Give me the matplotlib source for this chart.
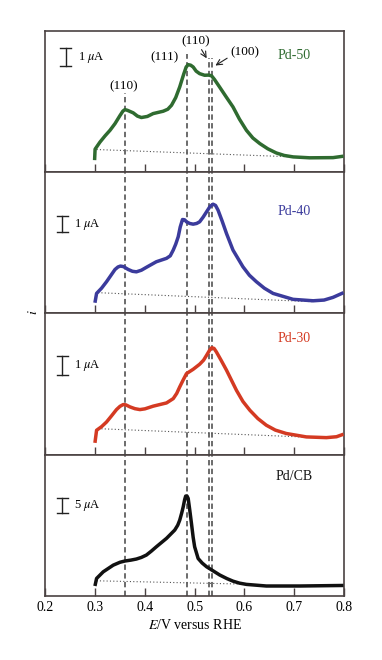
import matplotlib
matplotlib.use('Agg')
import matplotlib.pyplot as plt

plt.rcParams['font.family'] = ['Liberation Serif', 'DejaVu Serif']
plt.rcParams['mathtext.fontset'] = 'stix'

# potentials (V vs RHE) and currents (arbitrary units, 1 unit ~ scale bar)
e_pd50 = [0.2990, 0.3000, 0.3097, 0.320, 0.330, 0.340, 0.350, 0.356, 0.360, 0.365, 0.3766,
          0.385, 0.393, 0.405, 0.4167, 0.4368, 0.446, 0.4535, 0.462, 0.470, 0.478, 0.483,
          0.487, 0.492, 0.497, 0.503, 0.510, 0.520, 0.528, 0.534, 0.540, 0.550, 0.563,
          0.577, 0.590, 0.604, 0.617, 0.631, 0.647, 0.664, 0.680, 0.698, 0.731, 0.778, 0.799]
i_pd50 = [0.67, 1.28, 1.67, 2.02, 2.33, 2.70, 3.15, 3.40, 3.48, 3.44, 3.30,
          3.12, 3.04, 3.10, 3.26, 3.39, 3.50, 3.72, 4.15, 4.74, 5.45, 5.85,
          5.98, 5.95, 5.85, 5.62, 5.48, 5.39, 5.40, 5.36, 5.15, 4.74, 4.20,
          3.63, 2.95, 2.33, 1.90, 1.59, 1.30, 1.07, 0.93, 0.85, 0.80, 0.81, 0.89]

e_pd40 = [0.2997, 0.303, 0.313, 0.323, 0.332, 0.340, 0.346, 0.351, 0.357, 0.3666, 0.375, 0.383,
          0.393, 0.403, 0.423, 0.4435, 0.451, 0.457, 0.462, 0.467, 0.471, 0.4756, 0.4800,
          0.4836, 0.490, 0.497, 0.504, 0.510, 0.517, 0.524, 0.531, 0.537, 0.542, 0.547,
          0.555, 0.564, 0.577, 0.597, 0.610, 0.624, 0.640, 0.6575, 0.6977, 0.738, 0.760,
          0.778, 0.799]
i_pd40 = [0.59, 1.11, 1.40, 1.76, 2.12, 2.44, 2.58, 2.63, 2.60, 2.44, 2.34, 2.31,
          2.40, 2.56, 2.87, 3.06, 3.20, 3.52, 3.85, 4.26, 4.80, 5.22, 5.20,
          5.09, 5.00, 4.96, 5.00, 5.09, 5.35, 5.65, 5.95, 6.07, 6.00, 5.74,
          5.15, 4.44, 3.52, 2.59, 2.12, 1.76, 1.40, 1.11, 0.78, 0.70, 0.74,
          0.89, 1.15]

e_pd30 = [0.2997, 0.303, 0.313, 0.323, 0.333, 0.343, 0.350, 0.3565, 0.362, 0.370, 0.380,
          0.390, 0.400, 0.4167, 0.4435, 0.457, 0.464, 0.470, 0.477, 0.4836, 0.497, 0.510,
          0.518, 0.524, 0.530, 0.5344, 0.5390, 0.5438, 0.553, 0.564, 0.584, 0.597, 0.611,
          0.627, 0.644, 0.662, 0.684, 0.7244, 0.7646, 0.785, 0.799]
i_pd30 = [0.65, 1.35, 1.55, 1.81, 2.15, 2.50, 2.68, 2.78, 2.76, 2.65, 2.55,
          2.50, 2.54, 2.69, 2.87, 3.11, 3.40, 3.76, 4.15, 4.50, 4.74, 5.02,
          5.25, 5.52, 5.80, 5.94, 5.90, 5.70, 5.25, 4.69, 3.57, 2.95, 2.46,
          2.00, 1.63, 1.36, 1.17, 0.98, 0.94, 0.99, 1.13]

e_pdcb = [0.2997, 0.303, 0.3164, 0.3365, 0.350, 0.360, 0.372, 0.383, 0.393, 0.403, 0.413,
          0.423, 0.4435, 0.460, 0.466, 0.470, 0.474, 0.477, 0.480, 0.482, 0.4845, 0.487,
          0.490, 0.4936, 0.497, 0.500, 0.507, 0.515, 0.524, 0.5505, 0.565, 0.577, 0.590,
          0.604, 0.644, 0.711, 0.799]
i_pdcb = [0.54, 0.96, 1.33, 1.70, 1.86, 1.93, 1.98, 2.04, 2.13, 2.26, 2.48,
          2.72, 3.19, 3.65, 3.92, 4.20, 4.60, 4.94, 5.35, 5.54, 5.55, 5.41,
          4.80, 4.02, 3.25, 2.72, 2.07, 1.82, 1.61, 1.15, 0.95, 0.81, 0.70,
          0.63, 0.54, 0.54, 0.57]

# linear baselines (start/end potential and current)
base_e = [[0.303, 0.70], [0.306, 0.738], [0.306, 0.751], [0.303, 0.591]]
base_i = [[1.26, 0.85], [1.15, 0.65], [1.44, 0.94], [0.83, 0.65]]

names = ['Pd-50', 'Pd-40', 'Pd-30', 'Pd/CB']
colors = ['#2f6b30', '#3b3b9c', '#d43a22', '#111111']
scale_text = ['1 $\\mu$A', '1 $\\mu$A', '1 $\\mu$A', '5 $\\mu$A']
scale_len = [1.0, 0.93, 1.02, 0.83]
scale_top = [6.9, 5.43, 5.46, 5.43]
name_y = [6.5, 5.65, 6.44, 6.65]

facets = [0.361, 0.4845, 0.5297, 0.5357]
xticks = [0.2, 0.3, 0.4, 0.5, 0.6, 0.7, 0.8]

series_e = [e_pd50, e_pd40, e_pd30, e_pdcb]
series_i = [i_pd50, i_pd40, i_pd30, i_pdcb]

frame = '#4a4242'
fig = plt.figure(figsize=(3.82, 6.6), dpi=100)
axes = fig.subplots(4, 1, sharex=True)
fig.subplots_adjust(left=0.1186, right=0.9005, top=0.953, bottom=0.0974, hspace=0)

ymax = 7.85
for k, ax in enumerate(axes):
    ax.plot(series_e[k], series_i[k], color=colors[k], lw=2.5, solid_joinstyle='round',
            solid_capstyle='butt', zorder=3)
    ax.plot(base_e[k], base_i[k], color='#555555', lw=0.8, ls=(0, (1, 2)), zorder=2)

    # facet lines
    for j, f in enumerate(facets):
        top = 1.0
        if k == 0:
            top = [0.558, 0.84, 0.806, 0.806][j]
        ax.axvline(f, ymin=0, ymax=top, color='#444444', lw=1.1, ls=(0, (3.5, 2.2)), zorder=1)

    # scale bar
    xb = 0.234 if k else 0.241
    yt = scale_top[k]
    yb = yt - scale_len[k]
    ax.plot([xb, xb], [yb, yt], color='#222222', lw=1.0)
    ax.plot([xb - 0.011, xb + 0.011], [yt, yt], color='#222222', lw=1.0)
    ax.plot([xb - 0.011, xb + 0.011], [yb, yb], color='#222222', lw=1.0)
    ax.text(xb + 0.024, (yt + yb) / 2, scale_text[k], fontsize=9, va='center', ha='left')

    ax.text(0.70, name_y[k], names[k], color=colors[k], fontsize=10, ha='center', va='center')

    ax.set_xlim(0.2, 0.8)
    ax.set_ylim(0, ymax)
    ax.set_yticks([])
    ax.set_xticks(xticks)
    ax.tick_params(axis='x', direction='in', length=6, width=1.0, color=frame,
                   labelsize=10, top=False)
    for s in ax.spines.values():
        s.set_color(frame)
        s.set_linewidth(1.2)

# labels in the top panel
ax = axes[0]
ax.text(0.358, 4.8, '(110)', fontsize=9.5, ha='center', va='center')
ax.text(0.439, 6.37, '(111)', fontsize=9.5, ha='center', va='center')
ax.text(0.502, 7.3, '(110)', fontsize=9.5, ha='center', va='center')
ax.text(0.60, 6.65, '(100)', fontsize=9.5, ha='center', va='center')
ax.annotate('', xy=(0.527, 6.2), xytext=(0.511, 6.95),
            arrowprops=dict(arrowstyle='->', color='#222222', lw=0.8))
ax.annotate('', xy=(0.537, 5.85), xytext=(0.570, 6.42),
            arrowprops=dict(arrowstyle='->', color='#222222', lw=0.8))

axes[-1].set_xlabel('$\\mathit{E}$/V versus RHE', fontsize=10, labelpad=3)
fig.text(0.087, 0.527, '$\\mathit{i}$', rotation=90, fontsize=10, ha='center', va='center')

plt.savefig('out.png', dpi=100)
